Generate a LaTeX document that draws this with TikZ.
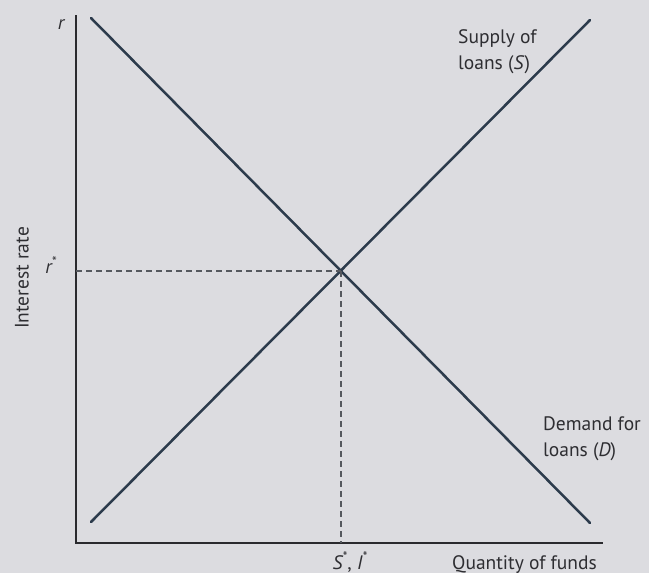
\documentclass[tikz,border=0pt]{standalone}
\usepackage{fontspec}
\setmainfont{PT Sans}
\begin{document}
\begin{tikzpicture}[x=1pt,y=-1pt,
  curve/.style={line width=2.5pt,color=curvecol,line cap=round},
  axis/.style={line width=2pt,color=axiscol},
  guide/.style={line width=1.2pt,color=guidecol,dash pattern=on 6pt off 4pt},
  lbl/.style={font=\fontsize{19.5}{26}\selectfont,text=txtcol,inner sep=0pt}]
\definecolor{bgcol}{HTML}{DCDCE0}
\definecolor{curvecol}{HTML}{2C3B4C}
\definecolor{axiscol}{HTML}{2A2A2E}
\definecolor{guidecol}{HTML}{55585E}
\definecolor{txtcol}{HTML}{2E2E32}
\fill[bgcol] (0,0) rectangle (649,573);
\useasboundingbox (0,0) rectangle (649,573);
% axes
\coordinate (O) at (76,543);
\coordinate (Ytop) at (76,15);
\coordinate (Xend) at (603,543);
\draw[axis] (Ytop) -- (O) -- (Xend);
% curves
\coordinate (D1) at (91,18);
\coordinate (D2) at (590,523);
\coordinate (S1) at (91,522);
\coordinate (S2) at (590,20);
\draw[curve] (D1) -- (D2);
\draw[curve] (S1) -- (S2);
\coordinate (E) at (341,271);
\coordinate (Ey) at (76,271);
\coordinate (Ex) at (341,543);
\draw[guide] (Ey) -- (E);
\draw[guide] (E) -- (Ex);
% labels
\node[lbl] (rlab) at (61,25) {\itshape r};
\node[lbl] (rstar) at (51,265) {\itshape r\textsuperscript{*}};
\node[lbl,rotate=90] (ylab) at (22,278) {Interest rate};
\node[lbl,anchor=base] (xstar) at (350,569) {\itshape S\textsuperscript{*}\upshape , \itshape I\textsuperscript{*}};
\node[lbl,anchor=base] (xlab) at (524.5,569) {Quantity of funds};
\node[lbl,align=left,anchor=north west] (slab) at (458,29) {Supply of\\loans (\textit{S})};
\node[lbl,align=left,anchor=north west] (dlab) at (543,416) {Demand for\\loans (\textit{D})};
\end{tikzpicture}
\end{document}
